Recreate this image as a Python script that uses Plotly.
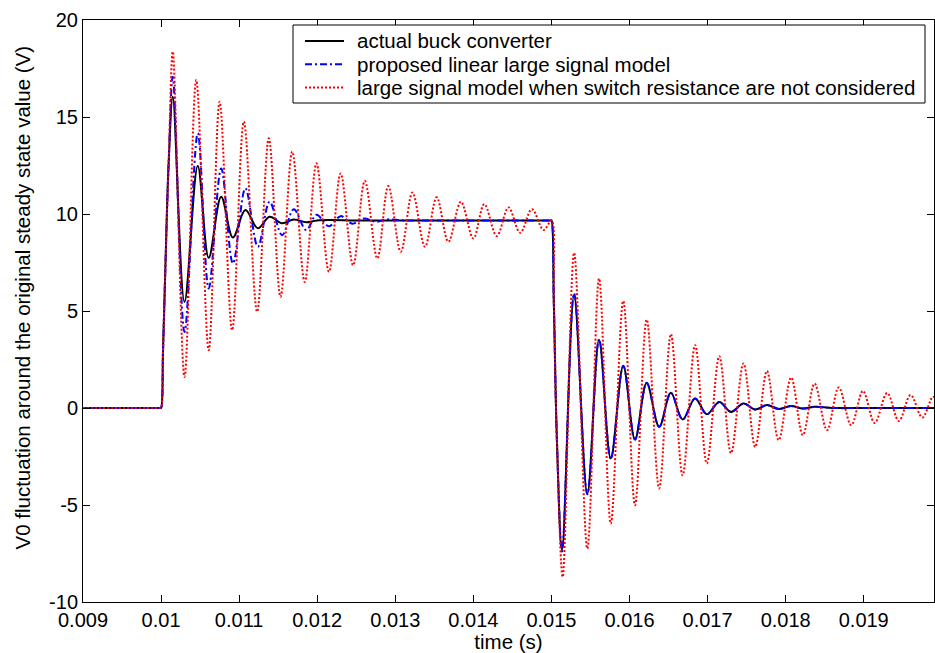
import plotly.graph_objects as go

# Output voltage fluctuation (V) around the original steady-state value, versus time (s).
# Each series is given by its turning points (peaks / troughs) plus the step edges.

black_t = [0.009, 0.00999, 0.01, 0.010025, 0.010054, 0.010097,
           0.01015, 0.0103, 0.01047, 0.01061, 0.01077, 0.01092, 0.01108, 0.01124,
           0.01139, 0.01155, 0.0117, 0.01186, 0.0120, 0.0125, 0.0130, 0.0135,
           0.0140, 0.0145, 0.01499, 0.015, 0.01503, 0.01507, 0.015136,
           0.01529, 0.01546, 0.01561, 0.01576, 0.01592, 0.01607, 0.01622, 0.01638,
           0.01653, 0.01668, 0.01684, 0.01699, 0.01715, 0.0173, 0.01746, 0.01761,
           0.01776, 0.01791, 0.01807, 0.01822, 0.01837, 0.0186, 0.0190, 0.0199]
black_v = [0, 0, 0, 2.98, 7.09, 12.62,
           16.04, 5.47, 12.47, 7.74, 10.89, 8.79, 10.20, 9.26,
           9.86, 9.52, 9.72, 9.57, 9.67, 9.67, 9.67, 9.67,
           9.67, 9.67, 9.67, 9.67, 5.56, -1.66, -7.34,
           5.82, -4.41, 3.50, -2.60, 2.16, -1.62, 1.29, -0.97,
           0.78, -0.59, 0.49, -0.32, 0.31, -0.20, 0.23, -0.08,
           0.15, -0.05, 0.10, -0.03, 0.06, 0, 0, 0]

blue_t = [0.009, 0.00999, 0.01, 0.010025, 0.010054, 0.010097,
          0.01015, 0.0103, 0.01047, 0.01061, 0.01077, 0.01092, 0.01108, 0.01124,
          0.01139, 0.01155, 0.0117, 0.01186, 0.01199, 0.01215, 0.0123, 0.01245,
          0.0126, 0.01275, 0.0129, 0.0131, 0.0135, 0.0140, 0.0145, 0.01499,
          0.015, 0.01503, 0.01507, 0.015136,
          0.01529, 0.01546, 0.01561, 0.01576, 0.01592, 0.01607, 0.01622, 0.01638,
          0.01653, 0.01668, 0.01684, 0.01699, 0.01715, 0.0173, 0.01746, 0.01761,
          0.01776, 0.01791, 0.01807, 0.01822, 0.01837, 0.0186, 0.0190, 0.0199]
blue_v = [0, 0, 0, 2.98, 7.09, 12.62,
          17.08, 3.92, 14.16, 6.16, 12.35, 7.45, 11.32, 8.31,
          10.63, 8.91, 10.24, 9.17, 9.96, 9.37, 9.89, 9.50,
          9.77, 9.60, 9.72, 9.67, 9.67, 9.67, 9.67, 9.67,
          9.67, 5.56, -1.66, -7.40,
          5.91, -4.45, 3.55, -2.63, 2.18, -1.63, 1.30, -0.97,
          0.78, -0.59, 0.49, -0.32, 0.31, -0.20, 0.23, -0.08,
          0.15, -0.05, 0.10, -0.03, 0.06, 0, 0, 0]

red_t = [0.009, 0.00999, 0.01, 0.010025, 0.010054, 0.010097,
         0.01015, 0.0103, 0.01045, 0.01061, 0.01075, 0.01091, 0.01106, 0.01123,
         0.01138, 0.01153, 0.01168, 0.01184, 0.01199, 0.01215, 0.0123, 0.01246,
         0.01261, 0.01277, 0.01291, 0.01307, 0.01322, 0.01338, 0.01353, 0.01368,
         0.01384, 0.0140, 0.01414, 0.0143, 0.01445, 0.0146, 0.01475, 0.0149,
         0.015, 0.01503, 0.01507, 0.015144,
         0.01529, 0.01546, 0.01561, 0.01576, 0.01592, 0.01607, 0.01622, 0.01638,
         0.01653, 0.01668, 0.01684, 0.01699, 0.01715, 0.0173, 0.01746, 0.01761,
         0.01776, 0.01791, 0.01807, 0.01822, 0.01837, 0.01853, 0.01868, 0.01884,
         0.01899, 0.01914, 0.0193, 0.01945, 0.0196, 0.01975, 0.01988, 0.0199]
red_v = [0, 0, 0, 2.98, 7.09, 12.62,
         18.37, 1.60, 16.91, 2.98, 15.79, 4.01, 14.76, 4.96,
         13.90, 5.73, 13.21, 6.50, 12.61, 7.02, 12.09, 7.36,
         11.71, 7.71, 11.44, 8.05, 11.11, 8.31, 10.86, 8.57,
         10.63, 8.74, 10.51, 8.86, 10.34, 9.03, 10.25, 9.17,
         9.67, 5.56, -1.66, -8.71,
         8.00, -7.25, 6.68, -5.96, 5.52, -5.01, 4.56, -4.15,
         3.81, -3.47, 3.24, -2.86, 2.67, -2.33, 2.30, -2.01,
         1.91, -1.66, 1.57, -1.40, 1.26, -1.14, 1.06, -0.89,
         0.88, -0.77, 0.77, -0.67, 0.67, -0.49, 0.57, 0.56]

series_names = ["actual buck converter",
                "proposed linear large signal model",
                "large signal model when switch resistance are not considered"]

x_tickvals = [0.009, 0.010, 0.011, 0.012, 0.013, 0.014, 0.015, 0.016, 0.017, 0.018, 0.019]
x_ticktext = ["0.009", "0.01", "0.011", "0.012", "0.013", "0.014", "0.015",
              "0.016", "0.017", "0.018", "0.019"]
y_tickvals = [-10, -5, 0, 5, 10, 15, 20]
y_ticktext = ["-10", "-5", "0", "5", "10", "15", "20"]

FONT = "Liberation Sans, Arial, sans-serif"
W, H = 935, 653
ML, MR, MT, MB = 83, 1, 20, 51
PW, PH = W - ML - MR, H - MT - MB


def px_x(px):
    """Horizontal pixel position -> paper coordinate."""
    return (px - ML) / PW


def px_y(py):
    """Vertical pixel position (from top) -> paper coordinate."""
    return (H - MB - py) / PH


colors = ["#000000", "#0000FF", "#FF0000"]
dashes = ["solid", "7px,3px,2px,3px", "2px,2px"]

fig = go.Figure()
for (t, v), name, color, dash in zip([(black_t, black_v), (blue_t, blue_v), (red_t, red_v)],
                                     series_names, colors, dashes):
    fig.add_trace(go.Scatter(
        x=t, y=v, mode="lines", name=name, showlegend=False,
        line=dict(color=color, width=2, dash=dash, shape="spline", smoothing=1),
    ))

# Boxed key in the upper right of the axes
shapes = [dict(type="rect", xref="paper", yref="paper",
               x0=px_x(293), x1=px_x(925), y0=px_y(103), y1=px_y(25),
               line=dict(color="black", width=1), fillcolor="white", layer="above")]
annotations = []
for i, (name, color, dash) in enumerate(zip(series_names, colors, dashes)):
    row_y = 41 + i * 23.3
    shapes.append(dict(type="line", xref="paper", yref="paper",
                       x0=px_x(305), x1=px_x(344), y0=px_y(row_y), y1=px_y(row_y),
                       line=dict(color=color, width=2, dash=dash), layer="above"))
    annotations.append(dict(text=name, xref="paper", yref="paper",
                            x=px_x(355), y=px_y(row_y), xanchor="left", yanchor="middle",
                            showarrow=False,
                            font=dict(family=FONT, size=20.5, color="black")))

# Vertical axis label
annotations.append(dict(text="V0 fluctuation around the original steady state value (V)",
                        xref="paper", yref="paper", x=px_x(21.5), y=px_y(298),
                        xanchor="center", yanchor="middle", textangle=-90, showarrow=False,
                        font=dict(family=FONT, size=20.5, color="black")))

axis_common = dict(
    showline=True, linecolor="black", linewidth=1, mirror="ticks",
    ticks="inside", ticklen=7, tickcolor="black", tickwidth=1,
    showgrid=False, zeroline=False,
    tickfont=dict(family=FONT, size=20, color="black"),
)

fig.update_layout(
    width=W, height=H,
    margin=dict(l=ML, r=MR, t=MT, b=MB),
    paper_bgcolor="white", plot_bgcolor="white",
    font=dict(family=FONT, size=20, color="black"),
    showlegend=False,
    shapes=shapes,
    annotations=annotations,
    xaxis=dict(range=[0.009, 0.0199], tickvals=x_tickvals, ticktext=x_ticktext,
               title=dict(text="time (s)", standoff=3,
                          font=dict(family=FONT, size=20.5, color="black")),
               **axis_common),
    yaxis=dict(range=[-10, 20], tickvals=y_tickvals, ticktext=y_ticktext, **axis_common),
)

fig.write_html("out.html")
